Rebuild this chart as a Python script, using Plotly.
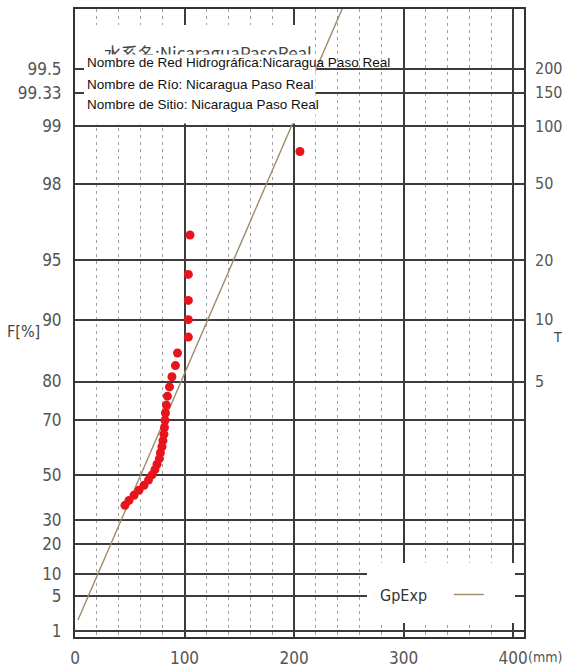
import numpy as np
import plotly.graph_objects as go

# ---------------- data ----------------
# observed points: value (mm) and non-exceedance probability F (%)
obs_x = [205.4, 105.0, 103.5, 103.5, 103.5, 103.5, 93.6, 91.7, 88.5, 86.3,
         84.4, 83.5, 82.6, 82.2, 81.7, 81.2, 80.3, 79.4, 78.0, 77.1,
         74.9, 73.0, 70.3, 67.1, 63.0, 58.4, 53.9, 49.3, 45.6]
obs_F = [98.64, 96.3, 94.1, 92.0, 90.0, 87.8, 85.4, 83.2, 81.0, 78.8,
         76.6, 74.3, 72.1, 69.9, 67.7, 65.5, 63.3, 61.1, 58.9, 56.6,
         54.4, 52.2, 50.0, 47.8, 45.6, 43.4, 41.2, 38.9, 36.7]

# fitted Gumbel line (GpExp): end points
gp_x = [2.7, 250.2]
gp_F = [1.77, 99.8]

f_ticks = [1, 5, 10, 20, 30, 50, 70, 80, 90, 95, 98, 99, 99.33, 99.5]
f_labels = ["1", "5", "10", "20", "30", "50", "70", "80", "90", "95", "98", "99", "99.33", "99.5"]
t_ticks = [5, 10, 20, 50, 100, 150, 200]
t_labels = ["5", "10", "20", "50", "100", "150", "200"]
x_ticks = [0, 100, 200, 300, 400]
x_labels = ["0", "100", "200", "300", "400"]

title_jp = "水系名:NicaraguaPasoReal"
info_lines = ["Nombre de Red Hidrográfica:Nicaragua Paso Real",
              "Nombre de Río: Nicaragua Paso Real",
              "Nombre de Sitio: Nicaragua Paso Real"]
legend_name = "GpExp"


def gumbel(fpct):
    return -np.log(-np.log(np.asarray(fpct, dtype=float) / 100.0))


# ---------------- layout helpers (pixel -> paper) ----------------
W, H = 562, 668
L, R, T, B = 75, 524, 9, 637


def px(x):
    return (x - L) / (R - L)


def py(y):
    return (B - y) / (B - T)


yr = [-1.600, 6.02]
FONT = "Liberation Sans Narrow, DejaVu Sans Condensed, Liberation Sans, Arial"
tick_font = dict(family=FONT, size=17, color="#555555")
right_font = dict(family=FONT, size=16, color="#555555")

fig = go.Figure()
fig.add_trace(go.Scatter(x=gp_x, y=gumbel(gp_F), mode="lines",
                         line=dict(color="#a08a68", width=1.4),
                         name=" ", showlegend=True, hoverinfo="skip"))
fig.add_trace(go.Scatter(x=obs_x, y=gumbel(obs_F), mode="markers",
                         marker=dict(color="#e8141c", size=9, line=dict(width=0)),
                         showlegend=False, name="obs"))
# carrier for the right-hand return-period axis
fig.add_trace(go.Scatter(x=[None], y=[None], yaxis="y2", showlegend=False,
                         hoverinfo="skip", mode="markers"))

fig.update_layout(
    width=W, height=H,
    margin=dict(l=L, r=W - R, t=T, b=H - B),
    paper_bgcolor="white", plot_bgcolor="white",
    xaxis=dict(range=[0, 410], tickmode="array", tickvals=x_ticks, ticktext=x_labels,
               showgrid=True, gridcolor="#3c3c3c", gridwidth=1.6,
               minor=dict(tickmode="linear", tick0=0, dtick=20, showgrid=True,
                          gridcolor="#a0a0a0", gridwidth=1, griddash="3px,4px"),
               showline=True, mirror=True, linecolor="#333333", linewidth=2,
               zeroline=False, ticks="", tickfont=tick_font, ticklabelstandoff=5,
               automargin=False),
    yaxis=dict(range=yr, tickmode="array", tickvals=gumbel(f_ticks), ticktext=f_labels,
               showgrid=True, gridcolor="#3c3c3c", gridwidth=1.6,
               showline=True, mirror=True, linecolor="#333333", linewidth=2,
               zeroline=False, ticks="", tickfont=tick_font, ticklabelstandoff=8,
               automargin=False),
    yaxis2=dict(range=yr, overlaying="y", side="right", tickmode="array",
                tickvals=gumbel([100 * (1 - 1 / t) for t in t_ticks]), ticktext=t_labels,
                showgrid=False, zeroline=False, showline=False, ticks="",
                tickfont=right_font, ticklabelstandoff=10, automargin=False),
    legend=dict(x=px(378), y=py(580), xanchor="left", yanchor="top",
                bgcolor="rgba(0,0,0,0)", borderwidth=0,
                title=dict(text=legend_name + "\u00a0" * 3, side="left",
                           font=dict(family=FONT, size=16, color="#333333")),
                font=dict(size=12)),
    showlegend=True,
)

# white boxes (info box and legend box) hiding the grid
fig.add_shape(type="rect", xref="paper", yref="paper",
              x0=px(84), x1=px(314), y0=py(122), y1=py(25),
              fillcolor="white", line=dict(width=0), layer="above")
fig.add_shape(type="rect", xref="paper", yref="paper",
              x0=px(367), x1=px(515), y0=py(623), y1=py(563),
              fillcolor="white", line=dict(width=0), layer="above")

# partially hidden original title
fig.add_annotation(text=title_jp, xref="paper", yref="paper",
                   x=px(102), y=py(53), xanchor="left", yanchor="middle",
                   showarrow=False,
                   font=dict(family="Noto Sans CJK JP, Liberation Sans", size=17, color="#444444"))
# white cover over its lower half
fig.add_annotation(text="\u00a0", xref="paper", yref="paper",
                   x=px(84), y=py(54), xanchor="left", yanchor="top",
                   width=230, height=68, bgcolor="white", borderpad=0,
                   showarrow=False, font=dict(size=10))

for i, txt in enumerate(info_lines):
    fig.add_annotation(text=txt, xref="paper", yref="paper",
                       x=px(85), y=py(63 + 21 * i), xanchor="left", yanchor="middle",
                       showarrow=False,
                       font=dict(family="Liberation Sans, Arial", size=13.5, color="#111111"))

fig.add_annotation(text="F[%]", xref="paper", yref="paper", x=px(23), y=py(331),
                   xanchor="center", yanchor="middle", showarrow=False,
                   font=dict(family=FONT, size=16, color="#444444"))
fig.add_annotation(text="T", xref="paper", yref="paper", x=px(557), y=py(337),
                   xanchor="center", yanchor="middle", showarrow=False,
                   font=dict(family=FONT, size=14, color="#444444"))
fig.add_annotation(text="(mm)", xref="paper", yref="paper", x=px(526), y=py(657),
                   xanchor="left", yanchor="middle", showarrow=False,
                   font=dict(family=FONT, size=14, color="#555555"))

fig.write_html("out.html", config={"displayModeBar": False},
               post_script="document.body.style.margin='0';document.body.style.overflow='hidden';")
